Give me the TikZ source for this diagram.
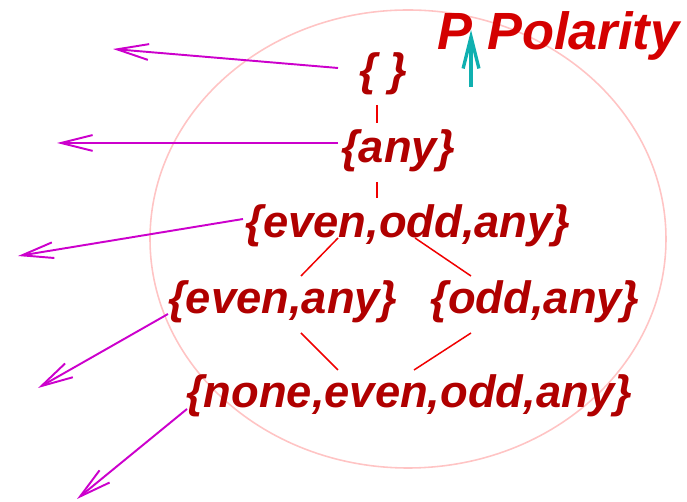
\documentclass[tikz,border=0pt]{standalone}
\usepackage{fontspec}
\setmainfont{Liberation Sans}
\usetikzlibrary{arrows.meta}
\definecolor{setred}{HTML}{B00000}
\definecolor{titlered}{HTML}{D40000}
\definecolor{linered}{HTML}{F00000}
\definecolor{ellpink}{HTML}{FFC4C4}
\definecolor{magarrow}{HTML}{CC00CC}
\definecolor{tealarrow}{HTML}{10B0B0}
\tikzset{
  setnode/.style={anchor=base, inner sep=0pt, text=setred, font=\fontsize{25.8}{30}\selectfont\bfseries\itshape},
  titlenode/.style={anchor=base west, inner sep=0pt, text=titlered, font=\fontsize{29.8}{34}\selectfont\bfseries\itshape},
  latline/.style={draw=linered, line width=0.85pt},
  maparrow/.style={draw=magarrow, line width=1.1pt, -{Straight Barb[length=18pt,width=9pt]}},
  pointer/.style={draw=tealarrow, line width=1.9pt, -{Straight Barb[length=18pt,width=9pt]}},
}
\begin{document}
\begin{tikzpicture}[x=0.02cm,y=-0.02cm]
\useasboundingbox (0,0) rectangle (687,502);
\draw[ellpink, line width=0.9pt] (408,239) ellipse [x radius=258, y radius=229];
% set nodes
\node[setnode] (empty) at (383,86) {\{ \}};
\node[setnode] (any) at (398,163) {\{any\}};
\node[setnode] (eoa) at (408,238) {\{even,odd,any\}};
\node[setnode] (ea) at (283,314) {\{even,any\}};
\node[setnode] (oa) at (535,314) {\{odd,any\}};
\node[setnode] (neoa) at (409,408) {\{none,even,odd,any\}};
% title
\node[titlenode] (P) at (437,50) {P};
\node[titlenode] (pol) at (487,50) {Polarity};
% lattice lines
\coordinate (l1a) at (377,105); \coordinate (l1b) at (377,123);
\coordinate (l2a) at (377,182); \coordinate (l2b) at (377,198);
\coordinate (l3a) at (338,238); \coordinate (l3b) at (301,276);
\coordinate (l4a) at (415,238); \coordinate (l4b) at (471,276);
\coordinate (l5a) at (301,333); \coordinate (l5b) at (338,370);
\coordinate (l6a) at (471,333); \coordinate (l6b) at (414,370);
\draw[latline] (l1a) -- (l1b);
\draw[latline] (l2a) -- (l2b);
\draw[latline] (l3a) -- (l3b);
\draw[latline] (l4a) -- (l4b);
\draw[latline] (l5a) -- (l5b);
\draw[latline] (l6a) -- (l6b);
% magenta arrows
\coordinate (s1) at (338,68);  \coordinate (t1) at (113,49);
\coordinate (s2) at (338,143); \coordinate (t2) at (57,143);
\coordinate (s3) at (243,219); \coordinate (t3) at (18,256);
\coordinate (s4) at (168,314); \coordinate (t4) at (38,388);
\coordinate (s5) at (187,409); \coordinate (t5) at (77,499);
\draw[maparrow] (s1) -- (t1);
\draw[maparrow] (s2) -- (t2);
\draw[maparrow] (s3) -- (t3);
\draw[maparrow] (s4) -- (t4);
\draw[maparrow] (s5) -- (t5);
% teal pointer
\coordinate (ps) at (471,87); \coordinate (pt) at (471,30);
\draw[pointer] (ps) -- (pt);
\end{tikzpicture}
\end{document}
